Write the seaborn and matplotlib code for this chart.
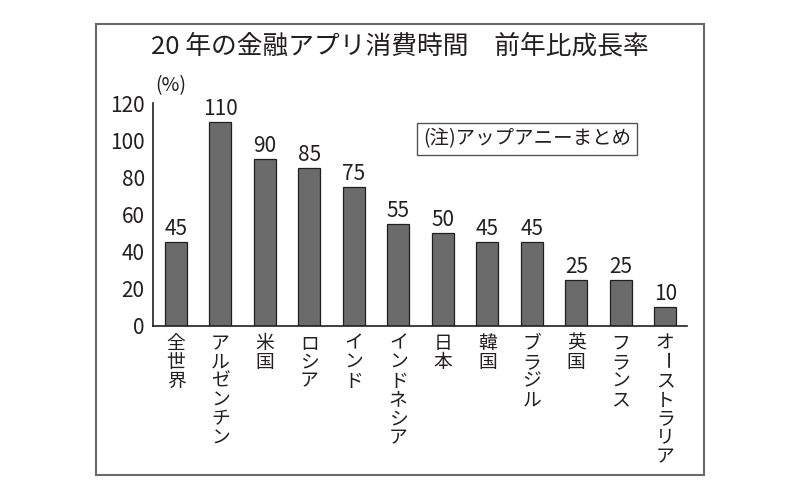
import matplotlib
matplotlib.use("Agg")
import matplotlib.pyplot as plt
import seaborn as sns
import pandas as pd
from matplotlib.patches import Rectangle

sns.set_theme(style="white")
plt.rcParams['font.family'] = ['Noto Sans CJK JP', 'DejaVu Sans']

categories = ["全世界", "アルゼンチン", "米国", "ロシア", "インド", "インドネシア",
              "日本", "韓国", "ブラジル", "英国", "フランス", "オーストラリア"]
values = [45, 110, 90, 85, 75, 55, 50, 45, 45, 25, 25, 10]
yticks = [0, 20, 40, 60, 80, 100, 120]
title = "20 年の金融アプリ消費時間　前年比成長率"
unit_label = "(%)"
note = "(注)アップアニーまとめ"

ink = "#231f20"
df = pd.DataFrame({"cat": categories, "val": values})

fig = plt.figure(figsize=(8, 5), dpi=100)
ax = fig.add_axes([153/800, 1-326/500, (687-153)/800, (326-103)/500])

sns.barplot(data=df, x="cat", y="val", ax=ax, color="#6b6b6b",
            edgecolor=ink, linewidth=0.9, width=0.495, saturation=1)

ax.set_xlim(-0.517, 11.49)
ax.set_ylim(0, 120)
ax.set_yticks(yticks)
ax.set_yticklabels([str(t) for t in yticks], fontsize=15, color=ink)
ax.tick_params(axis='y', length=0, pad=6)
ax.tick_params(axis='x', length=0)
ax.set_xticks(range(len(categories)))
ax.set_xticklabels([""] * len(categories))
ax.set_xlabel("")
ax.set_ylabel("")
for s in ["top", "right"]:
    ax.spines[s].set_visible(False)
for s in ["left", "bottom"]:
    ax.spines[s].set_color(ink)
    ax.spines[s].set_linewidth(1.2)

# value labels
for i, v in enumerate(values):
    ax.annotate(str(v), xy=(i, v), xytext=(0, 2), textcoords="offset pixels",
                ha="center", va="bottom", fontsize=15, color=ink)

# measure line pitch for stacked vertical labels
LABEL_FS = 13.5
renderer = fig.canvas.get_renderer()
t1 = fig.text(0, 0, "ア", fontsize=LABEL_FS, linespacing=1.0)
t2 = fig.text(0, 0, "ア\nア", fontsize=LABEL_FS, linespacing=1.0)
pitch = t2.get_window_extent(renderer).height - t1.get_window_extent(renderer).height
t1.remove(); t2.remove()
step = 18.3
lsp = step / pitch if pitch > 0 else 1.0

# vertical category labels (one character per line)
top_off = 16 - step / 2  # top of first character cell below axis
for i, lab in enumerate(categories):
    chars = [("" if ch == "ー" else ch) for ch in lab]
    ax.annotate("\n".join(chars), xy=(i, 0), xytext=(0, -top_off),
                textcoords="offset pixels", ha="center", va="top",
                fontsize=LABEL_FS, color=ink, linespacing=lsp,
                multialignment="center", annotation_clip=False)
    for k, ch in enumerate(lab):
        if ch == "ー":
            ax.annotate(ch, xy=(i, 0), xytext=(0, -(16 + k * step)),
                        textcoords="offset pixels", ha="center", va="center",
                        fontsize=LABEL_FS, color=ink, rotation=-90,
                        annotation_clip=False)

# unit label
fig.text(171/800, 1-86/500, unit_label, fontsize=14, color=ink,
         ha="center", va="center")

# title
fig.text(400/800, 1-47/500, title, fontsize=18.5, color=ink,
         ha="center", va="center")

# note box
fig.text(527/800, 1-139/500, note, fontsize=14, color=ink,
         ha="center", va="center",
         bbox=dict(boxstyle="square,pad=0.3", facecolor="white",
                   edgecolor="#555555", linewidth=1.0))

# outer frame
fig.patches.append(Rectangle((96/800, 1-475/500), (704-96)/800, (475-24)/500,
                             transform=fig.transFigure, fill=False,
                             edgecolor="#6a6a6a", linewidth=1.5))

fig.savefig("out.png", dpi=100, facecolor="white")
